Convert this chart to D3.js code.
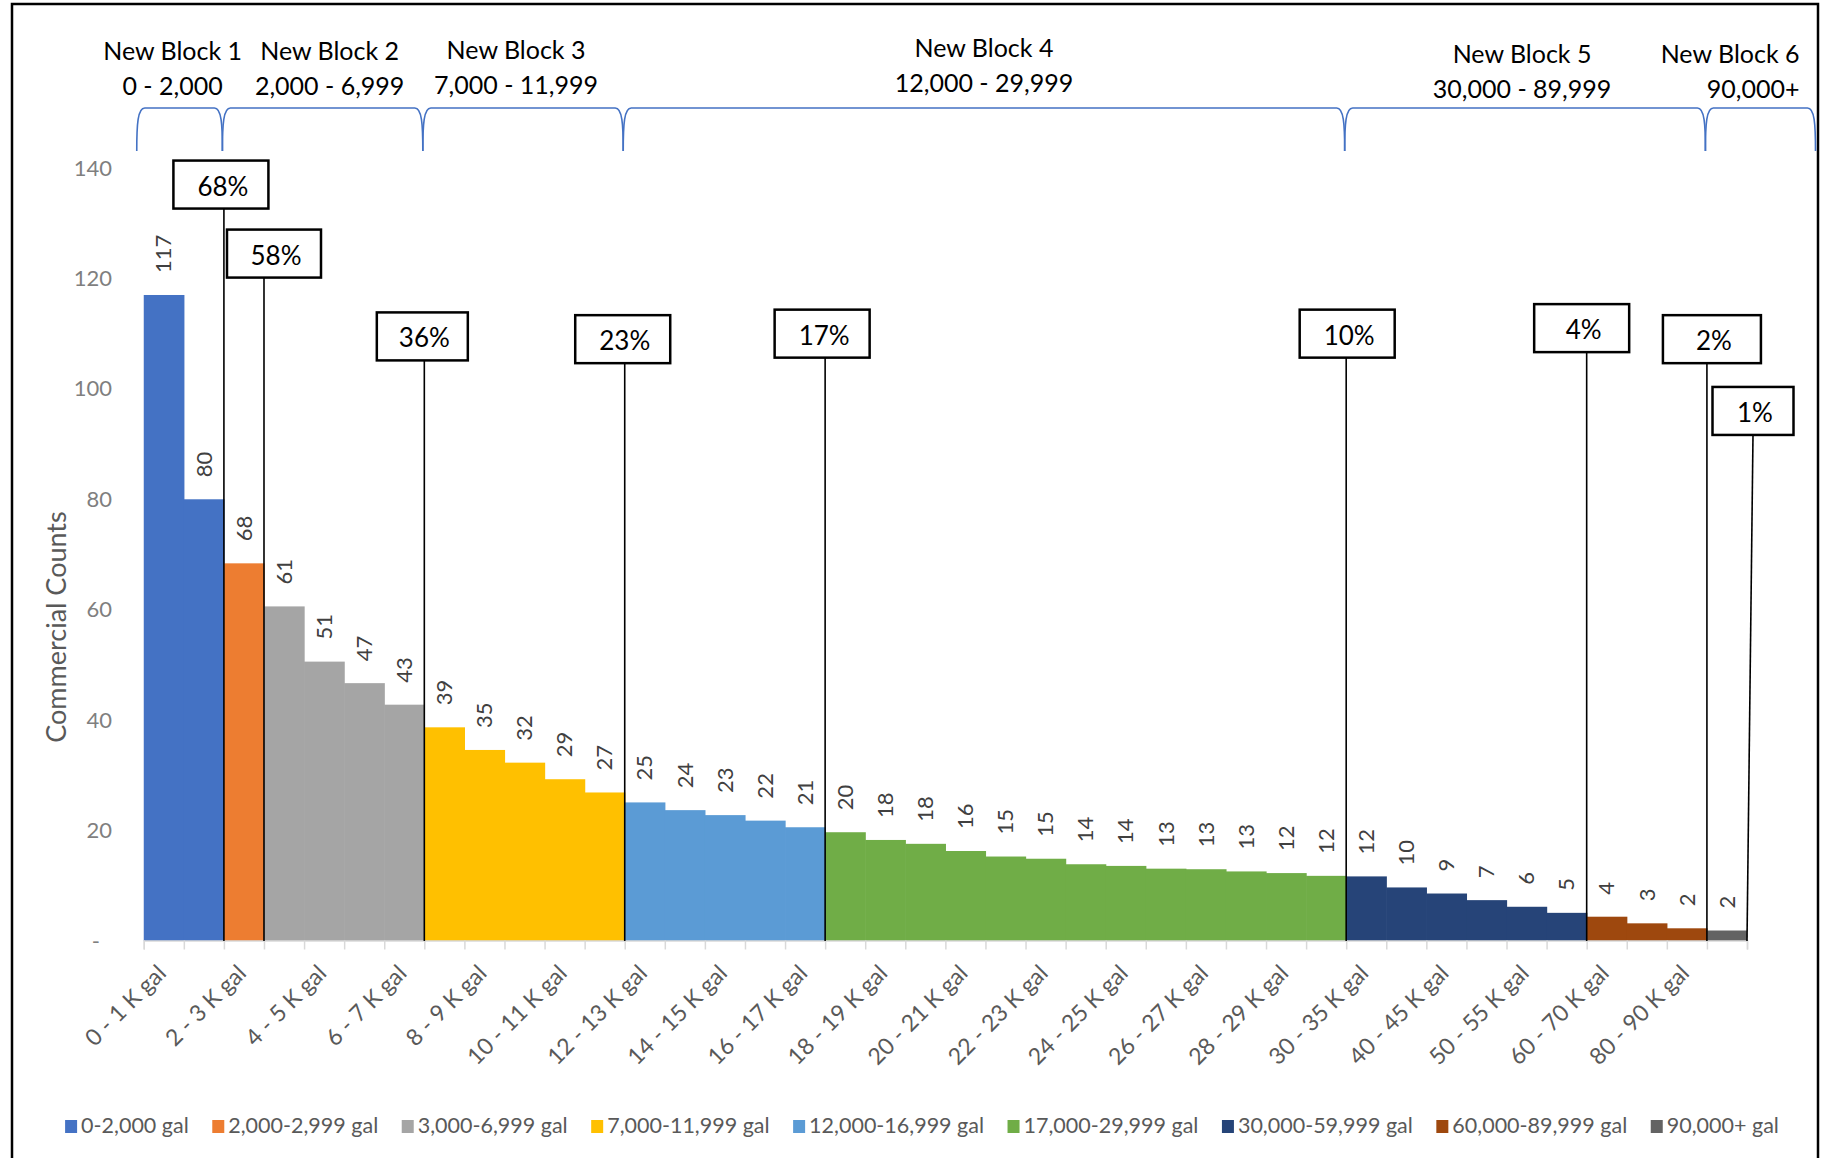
<!DOCTYPE html>
<html>
<head>
<meta charset="utf-8">
<script src="https://cdn.jsdelivr.net/npm/d3@7"></script>
<style>
  body { margin: 0; background: #fff; }
  svg text { font-family: Lato, "Open Sans", sans-serif; }
</style>
</head>
<body>
<div id="wrapper"></div>
<script>
// usage buckets (one bar each)
const categories = [
  "0 - 1 K gal", "1 - 2 K gal", "2 - 3 K gal", "3 - 4 K gal", "4 - 5 K gal",
  "5 - 6 K gal", "6 - 7 K gal", "7 - 8 K gal", "8 - 9 K gal", "9 - 10 K gal",
  "10 - 11 K gal", "11 - 12 K gal", "12 - 13 K gal", "13 - 14 K gal", "14 - 15 K gal",
  "15 - 16 K gal", "16 - 17 K gal", "17 - 18 K gal", "18 - 19 K gal", "19 - 20 K gal",
  "20 - 21 K gal", "21 - 22 K gal", "22 - 23 K gal", "23 - 24 K gal", "24 - 25 K gal",
  "25 - 26 K gal", "26 - 27 K gal", "27 - 28 K gal", "28 - 29 K gal", "29 - 30 K gal",
  "30 - 35 K gal", "35 - 40 K gal", "40 - 45 K gal", "45 - 50 K gal", "50 - 55 K gal",
  "55 - 60 K gal", "60 - 70 K gal", "70 - 80 K gal", "80 - 90 K gal", "90+ K gal"
]
// bar heights (labels show them rounded)
const counts = [
  117, 80, 68.4, 60.6, 50.6, 46.7, 42.8, 38.7, 34.6, 32.3,
  29.3, 26.9, 25.1, 23.7, 22.8, 21.8, 20.6, 19.7, 18.3, 17.6,
  16.3, 15.3, 14.9, 13.9, 13.6, 13.1, 13.0, 12.6, 12.3, 11.8,
  11.7, 9.7, 8.6, 7.4, 6.2, 5.1, 4.4, 3.2, 2.3, 1.9
]

// colour bands (legend) and how many buckets fall in each
const bands = ["0-2,000 gal", "2,000-2,999 gal", "3,000-6,999 gal", "7,000-11,999 gal",
  "12,000-16,999 gal", "17,000-29,999 gal", "30,000-59,999 gal", "60,000-89,999 gal", "90,000+ gal"]
const bandSizes = [2, 1, 4, 5, 5, 13, 6, 3, 1]
const bandColors = ["#4472c4", "#ed7d31", "#a5a5a5", "#ffc000", "#5b9bd5",
  "#70ad47", "#264478", "#9e480e", "#636363"]

const yTicks = [0, 20, 40, 60, 80, 100, 120, 140]

// proposed blocks across the top
const blockNames = ["New Block 1", "New Block 2", "New Block 3", "New Block 4", "New Block 5", "New Block 6"]
const blockRanges = ["0 - 2,000", "2,000 - 6,999", "7,000 - 11,999", "12,000 - 29,999", "30,000 - 89,999", "90,000+"]
const blockEdges = [0, 2, 7, 12, 30, 39, 40]

// callout boxes: text, bucket edge they point to, box height in counts
const calloutText = ["68%", "58%", "36%", "23%", "17%", "10%", "4%", "2%", "1%"]
const calloutEdge = [2, 3, 7, 12, 17, 30, 36, 39, 40]
const calloutLevel = [137, 124.5, 109.5, 109, 110, 110, 111, 109, 96]

const bandOf = bandSizes.flatMap((n, i) => d3.range(n).map(() => i))
const fmt = d3.format(".0f")

let dimensions = {
  width: 1821,
  height: 1158,
  margin: { top: 168, right: 74, bottom: 217, left: 143.75 },
}
dimensions.boundedWidth = dimensions.width - dimensions.margin.left - dimensions.margin.right
dimensions.boundedHeight = dimensions.height - dimensions.margin.top - dimensions.margin.bottom
const baseY = dimensions.margin.top + dimensions.boundedHeight

const wrapper = d3.select("#wrapper")
  .append("svg")
  .attr("width", dimensions.width)
  .attr("height", dimensions.height)

// outer frame
wrapper.append("rect")
  .attr("x", 12).attr("y", 4)
  .attr("width", 1806).attr("height", 1170)
  .attr("fill", "none").attr("stroke", "#000").attr("stroke-width", 2.5)

const xScale = d3.scaleBand()
  .domain(categories)
  .range([dimensions.margin.left, dimensions.margin.left + dimensions.boundedWidth])
  .padding(0)
const edgeScale = d3.scaleLinear()
  .domain([0, categories.length])
  .range(xScale.range())
const yScale = d3.scaleLinear()
  .domain([0, 140])
  .range([baseY, dimensions.margin.top])

// bars
wrapper.append("g").selectAll("rect")
  .data(counts)
  .join("rect")
  .attr("x", (d, i) => xScale(categories[i]))
  .attr("y", d => yScale(d))
  .attr("width", (d, i) => xScale.bandwidth() + (i < counts.length - 1 ? 0.6 : 0))
  .attr("height", d => yScale(0) - yScale(d))
  .attr("fill", (d, i) => bandColors[bandOf[i]])

// x axis: light line with ticks on bucket edges
const edgeAxis = d3.axisBottom(edgeScale)
  .tickValues(d3.range(categories.length + 1))
  .tickSize(9)
  .tickFormat("")
wrapper.append("g")
  .attr("transform", `translate(0, ${baseY - 0.5})`)
  .call(edgeAxis)
  .call(g => g.select(".domain").attr("stroke", "#d9d9d9").attr("stroke-width", 1.5))
  .call(g => g.selectAll(".tick line").attr("stroke", "#d9d9d9").attr("stroke-width", 1.5))

const labelAxis = d3.axisBottom(xScale)
  .tickSize(0)
  .tickFormat((d, i) => i % 2 === 0 ? d : "")
wrapper.append("g")
  .attr("transform", `translate(0, ${baseY})`)
  .call(labelAxis)
  .call(g => g.select(".domain").remove())
  .call(g => g.selectAll(".tick text")
    .attr("x", 0).attr("y", 0).attr("dy", "0.35em")
    .attr("transform", "translate(-2, 28) rotate(-45)")
    .style("text-anchor", "end")
    .attr("font-size", 23)
    .attr("font-family", "Lato, sans-serif")
    .attr("fill", "#595959"))

// y axis
const yAxis = d3.axisLeft(yScale)
  .tickValues(yTicks)
  .tickSize(0)
  .tickPadding(8)
  .tickFormat(d => d === 0 ? "-" : d)
wrapper.append("g")
  .attr("transform", "translate(120, 0)")
  .call(yAxis)
  .call(g => g.select(".domain").remove())
  .call(g => g.selectAll(".tick text")
    .attr("font-size", 22)
    .attr("font-family", "Lato, sans-serif")
    .attr("fill", "#7f7f7f"))
  .call(g => g.selectAll(".tick text").filter(d => d === 0).attr("dx", -12))

wrapper.append("text")
  .attr("transform", "translate(57, 627) rotate(-90)")
  .attr("dy", "0.35em")
  .attr("text-anchor", "middle")
  .attr("font-size", 27)
  .attr("fill", "#595959")
  .text("Commercial Counts")

// value labels, rotated
wrapper.append("g").selectAll("text")
  .data(counts)
  .join("text")
  .attr("transform", (d, i) =>
    `translate(${xScale(categories[i]) + xScale.bandwidth() / 2}, ${yScale(d) - 22}) rotate(-90)`)
  .attr("dy", "0.35em")
  .attr("font-size", 22)
  .attr("fill", "#404040")
  .text(d => fmt(d))

// callouts: box + leader line down to the bucket edge
const calloutShift = [-3, 10, -2, -2, -3, 1, -5, 5, 6]
const calloutWidth = [95, 94, 91, 95, 95, 95, 95, 98, 81]
const calloutH = 48
const callouts = wrapper.append("g").selectAll("g")
  .data(calloutText)
  .join("g")
callouts.append("line")
  .attr("x1", (d, i) => edgeScale(calloutEdge[i]) + (i === 8 ? calloutShift[i] : 0))
  .attr("y1", (d, i) => yScale(calloutLevel[i]) + calloutH / 2)
  .attr("x2", (d, i) => edgeScale(calloutEdge[i]))
  .attr("y2", baseY)
  .attr("stroke", "#000")
  .attr("stroke-width", 1.6)
callouts.append("rect")
  .attr("x", (d, i) => edgeScale(calloutEdge[i]) + calloutShift[i] - calloutWidth[i] / 2)
  .attr("y", (d, i) => yScale(calloutLevel[i]) - calloutH / 2)
  .attr("width", (d, i) => calloutWidth[i])
  .attr("height", calloutH)
  .attr("fill", "#fff")
  .attr("stroke", "#000")
  .attr("stroke-width", 2.5)
callouts.append("text")
  .attr("x", (d, i) => edgeScale(calloutEdge[i]) + calloutShift[i] + 2)
  .attr("y", (d, i) => yScale(calloutLevel[i]) + calloutH / 2 - 13)
  .attr("text-anchor", "middle")
  .attr("font-size", 26)
  .attr("fill", "#000")
  .text(d => d)

// block braces along the top
const braceTop = 108
const braceBottom = 151
function bracePath(xa, xb) {
  return `M${xa},${braceBottom} C${xa},${braceTop + 16} ${xa + 1},${braceTop} ${xa + 8},${braceTop}`
    + ` L${xb - 8},${braceTop} C${xb - 1},${braceTop} ${xb},${braceTop + 16} ${xb},${braceBottom}`
}
const blockX = blockEdges.map((e, i) => {
  if (i === 0) return edgeScale(e) - 7
  if (i === blockEdges.length - 1) return 1815.5
  return edgeScale(e) - 1.5
})
const blocks = wrapper.append("g").selectAll("g")
  .data(blockNames)
  .join("g")
blocks.append("path")
  .attr("d", (d, i) => bracePath(blockX[i], blockX[i + 1]))
  .attr("fill", "none")
  .attr("stroke", "#4472c4")
  .attr("stroke-width", 1.6)

const blockShift = [-7, 7, -7, 0, -3, 0]
const blockLift = [0, 0, -1, -3, 3, 3]
const blockText = blocks.append("text")
  .attr("text-anchor", (d, i) => i === 5 ? "end" : "middle")
  .attr("font-size", 25)
  .attr("fill", "#000")
  .attr("transform", (d, i) => {
    const x = i === 5 ? blockX[i + 1] - 16 : (blockX[i] + blockX[i + 1]) / 2 + blockShift[i]
    return `translate(${x}, ${60 + blockLift[i]})`
  })
blockText.append("tspan").attr("x", 0).attr("y", 0).text(d => d)
blockText.append("tspan").attr("x", 0).attr("y", 35).text((d, i) => blockRanges[i])

// legend
const legend = wrapper.append("g")
const items = legend.selectAll("g")
  .data(bands)
  .join("g")
items.append("rect")
  .attr("y", -13)
  .attr("width", 12)
  .attr("height", 13)
  .attr("fill", (d, i) => bandColors[i])
items.append("text")
  .attr("x", 16)
  .attr("font-size", 21.5)
  .attr("fill", "#595959")
  .text(d => d)
const legendGap = 23.5
let legendX = 0
items.each(function () {
  const w = 16 + this.querySelector("text").getComputedTextLength()
  d3.select(this).attr("transform", `translate(${legendX}, 0)`)
  legendX += w + legendGap
})
legend.attr("transform", `translate(${922 - (legendX - legendGap) / 2}, 1133)`)
</script>
</body>
</html>
